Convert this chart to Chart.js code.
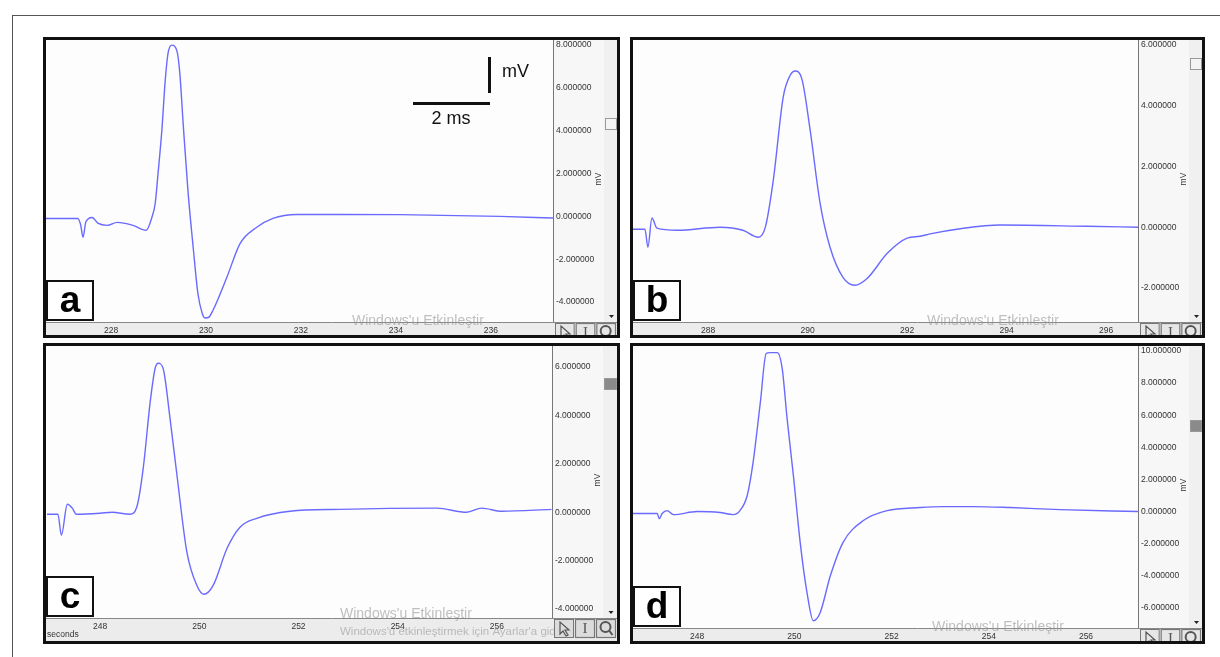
<!DOCTYPE html>
<html><head><meta charset="utf-8">
<script src="https://cdn.jsdelivr.net/npm/chart.js@4.4.1/dist/chart.umd.min.js"></script>
<style>
html,body{margin:0;padding:0;background:#fff;width:1220px;height:657px;overflow:hidden;}
.frame-top{position:absolute;left:12px;top:15px;width:1208px;height:0;border-top:1px solid #555;}
.frame-left{position:absolute;left:12px;top:15px;width:0;height:642px;border-left:1px solid #555;}
.panel{position:absolute;border:3px solid #111;}
canvas{display:block;}
</style></head><body>
<div class="frame-top"></div><div class="frame-left"></div>
<div class="panel" style="left:43px;top:37px"><canvas id="ca" width="571" height="295"></canvas></div>
<div class="panel" style="left:630px;top:37px"><canvas id="cb" width="569" height="295"></canvas></div>
<div class="panel" style="left:43px;top:343px"><canvas id="cc" width="571" height="295"></canvas></div>
<div class="panel" style="left:630px;top:343px"><canvas id="cd" width="569" height="295"></canvas></div>
<script>
// ---- data (time in axis units, amplitude in mV) ----
const aTime = [226.63,227.30,227.36,227.41,227.47,227.60,227.73,227.92,228.13,228.46,228.74,228.86,228.93,228.99,229.07,229.14,229.20,229.28,229.39,229.45,229.52,229.62,229.73,229.83,229.92,229.98,230.05,230.15,230.44,230.72,231.07,231.41,231.92,232.82,234.08,236.19,237.31];
const aVolt = [-0.10,-0.10,-0.40,-0.98,-0.25,-0.05,-0.33,-0.42,-0.28,-0.42,-0.65,-0.05,0.6,2.0,4.0,6.3,7.6,7.99,7.7,6.65,4.3,1.2,-1.44,-3.6,-4.52,-4.74,-4.72,-4.37,-2.84,-1.26,-0.51,-0.09,0.09,0.09,0.08,0.0,-0.08];
const bTime = [286.49,286.73,286.79,286.87,286.97,287.38,288.24,288.70,289.01,289.15,289.31,289.51,289.65,289.75,289.89,290.05,290.25,290.45,290.71,290.95,291.20,291.60,292.00,292.26,292.46,293.07,293.87,295.62,296.64];
const bVolt = [-0.07,-0.07,-0.66,0.30,-0.03,-0.10,0.00,-0.10,-0.33,0.00,1.55,4.29,5.00,5.14,4.84,3.20,0.79,-0.66,-1.65,-1.91,-1.68,-0.86,-0.36,-0.30,-0.22,-0.05,0.07,0.03,0.00];
const cTime = [246.93,247.15,247.22,247.34,247.44,247.52,248.00,248.24,248.60,248.75,248.87,249.01,249.11,249.17,249.27,249.41,249.55,249.75,249.95,250.09,250.28,250.56,250.82,251.16,251.83,252.83,254.79,255.39,255.69,256.10,257.10];
const cVolt = [-0.08,-0.08,-0.95,0.33,0.17,-0.08,-0.04,0.0,-0.08,0.29,1.82,4.55,5.95,6.16,5.95,3.88,1.53,-1.65,-3.02,-3.39,-3.02,-1.49,-0.62,-0.25,0.04,0.12,0.17,0.0,0.17,0.04,0.12];
const dTime = [246.68,247.18,247.22,247.28,247.38,247.51,248.00,248.47,248.74,248.88,249.03,249.15,249.30,249.42,249.50,249.65,249.75,249.85,249.98,250.12,250.26,250.39,250.53,250.74,251.00,251.42,251.91,252.59,253.06,253.68,254.44,255.47,257.07];
const dVolt = [-0.12,-0.12,-0.44,-0.12,0.06,-0.19,0.0,-0.06,-0.19,0.06,1.0,3.05,6.8,9.84,9.9,9.9,8.9,5.8,2.24,-1.93,-5.05,-6.8,-6.3,-4.0,-1.93,-0.56,0.06,0.25,0.31,0.31,0.25,0.12,0.0];

// ---- tick labels ----
const aXTicks = [228,230,232,234,236];
const bXTicks = [288,290,292,294,296];
const cXTicks = [248,250,252,254,256];
const dXTicks = [248,250,252,254,256];
const aYTicks = [-4,-2,0,2,4,6,8];
const bYTicks = [-2,0,2,4,6];
const cYTicks = [-4,-2,0,2,4,6];
const dYTicks = [-6,-4,-2,0,2,4,6,8,10];

const panelLetters = ['a','b','c','d'];
const yUnit = 'mV';
const xUnitLabel = 'seconds';
const watermark1 = "Windows'u Etkinleştir";
const watermark2 = "Windows'u etkinleştirmek için Ayarlar'a gidin.";

const FONT = '"Liberation Sans", Arial, sans-serif';
const LINE = '#6a6aff';

function decor(cfg){
  return {
    id: 'decor',
    beforeDraw(chart){
      const {ctx, chartArea: ca, width, height} = chart;
      ctx.save();
      ctx.fillStyle = '#f7f7f7'; ctx.fillRect(0,0,width,height);
      ctx.fillStyle = '#fdfdfd'; ctx.fillRect(ca.left, 0, ca.right-ca.left, ca.bottom);
      ctx.fillStyle = '#f0f0f0'; ctx.fillRect(ca.right+51, 0, width-ca.right-51, ca.bottom);
      ctx.fillStyle = '#ececec'; ctx.fillRect(0, ca.bottom, width, height-ca.bottom);
      ctx.restore();
    },
    afterDraw(chart){
      const {ctx, chartArea: ca, width, height} = chart;
      ctx.save();
      // axis lines
      ctx.strokeStyle = '#777'; ctx.lineWidth = 1;
      ctx.beginPath(); ctx.moveTo(Math.round(ca.right)+0.5, 0); ctx.lineTo(Math.round(ca.right)+0.5, ca.bottom); ctx.stroke();
      ctx.strokeStyle = '#888';
      ctx.beginPath(); ctx.moveTo(0, Math.round(ca.bottom)+0.5); ctx.lineTo(width, Math.round(ca.bottom)+0.5); ctx.stroke();
      // scroll thumb
      const colX = ca.right+51, colW = width-colX;
      ctx.fillStyle = cfg.thumbColor; ctx.strokeStyle = '#999';
      ctx.fillRect(colX+1, cfg.thumbY, colW-1, 12);
      ctx.strokeRect(colX+1.5, cfg.thumbY+0.5, colW-2, 11);
      // down arrow
      ctx.fillStyle = '#222';
      const ax = colX + colW/2 + 1, ay = ca.bottom - 7;
      ctx.beginPath(); ctx.moveTo(ax-2.5, ay); ctx.lineTo(ax+2.5, ay); ctx.lineTo(ax, ay+3); ctx.closePath(); ctx.fill();
      // tool buttons
      const by = ca.bottom + 1, bw = (width - ca.right - 2)/3;
      for (let i=0;i<3;i++){
        const bx = ca.right + 2 + i*bw;
        ctx.fillStyle = cfg.btnFill; ctx.fillRect(bx, by, bw-1, 19);
        ctx.strokeStyle = '#777'; ctx.strokeRect(bx+0.5, by+0.5, bw-2, 18);
        ctx.strokeStyle = '#555'; ctx.fillStyle = '#555'; ctx.lineWidth = 1.2;
        if (i===0){
          ctx.beginPath(); ctx.moveTo(bx+6, by+3); ctx.lineTo(bx+6, by+15); ctx.lineTo(bx+9, by+12);
          ctx.lineTo(bx+12, by+17); ctx.lineTo(bx+14, by+16); ctx.lineTo(bx+11, by+11); ctx.lineTo(bx+15, by+11); ctx.closePath(); ctx.stroke();
        } else if (i===1){
          ctx.font = '15px "Liberation Serif", serif'; ctx.textAlign='center'; ctx.textBaseline='middle';
          ctx.fillText('I', bx+bw/2-0.5, by+10);
        } else {
          ctx.lineWidth = 2; ctx.beginPath(); ctx.arc(bx+bw/2-1, by+8, 5, 0, Math.PI*2); ctx.stroke();
          ctx.beginPath(); ctx.moveTo(bx+bw/2+3, by+12); ctx.lineTo(bx+bw/2+6, by+16); ctx.stroke();
        }
      }
      ctx.lineWidth = 1;
      // rotated unit label
      ctx.fillStyle = '#333'; ctx.font = '8.5px ' + FONT; ctx.textAlign='center'; ctx.textBaseline='middle';
      ctx.save(); ctx.translate(ca.right+46, (ca.top+ca.bottom)/2 - 2); ctx.rotate(-Math.PI/2); ctx.fillText(yUnit, 0, 0); ctx.restore();
      // letter box
      const lx = ca.left, lw = 48, lh = 41, ly = ca.bottom - lh - 1;
      ctx.fillStyle = '#fff'; ctx.fillRect(lx, ly, lw, lh);
      ctx.strokeStyle = '#111'; ctx.lineWidth = 2; ctx.strokeRect(lx+1, ly+1, lw-2, lh-2);
      ctx.fillStyle = '#000'; ctx.font = 'bold 37px ' + FONT; ctx.textAlign='center'; ctx.textBaseline='middle';
      ctx.fillText(cfg.letter, lx+lw/2, ly+lh/2+1);
      // watermark
      ctx.fillStyle = 'rgba(150,150,150,0.6)'; ctx.textAlign='left';
      ctx.font = '14px ' + FONT;
      ctx.fillText(watermark1, cfg.wmX, cfg.wmY);
      if (cfg.wm2){
        ctx.save(); ctx.beginPath(); ctx.rect(0,0,ca.right+2,height); ctx.clip();
        ctx.font = '11.5px ' + FONT; ctx.fillText(watermark2, cfg.wmX, cfg.wmY+18); ctx.restore();
      }
      if (cfg.extra) cfg.extra(ctx, ca);
      ctx.restore();
    }
  };
}

function scaleBar(ctx, ca){
  ctx.fillStyle = '#111';
  ctx.fillRect(ca.left+442, ca.top+17, 3, 36);
  ctx.fillRect(ca.left+367, ca.top+62, 77, 3);
  ctx.font = '18px ' + FONT; ctx.textBaseline='middle';
  ctx.textAlign='left'; ctx.fillText('mV', ca.left+456, ca.top+32);
  ctx.textAlign='center'; ctx.fillText('2 ms', ca.left+405, ca.top+79);
}
function secondsLabel(ctx, ca){
  ctx.fillStyle = '#333'; ctx.font = '8.5px ' + FONT; ctx.textAlign='left'; ctx.textBaseline='middle';
  ctx.fillText(xUnitLabel, ca.left+1, ca.bottom+17);
}

function makeChart(id, times, volts, xTicks, yTicks, xmin, xmax, ymin, ymax, yW, xH, cfg){
  const pts = times.map((t,i)=>({x:t, y:volts[i]}));
  return new Chart(document.getElementById(id), {
    type: 'line',
    data: { datasets: [{ data: pts, borderColor: LINE, borderWidth: 1.4, pointRadius: 0,
      cubicInterpolationMode: 'monotone', fill: false }] },
    options: {
      responsive: false, animation: false, devicePixelRatio: 1,
      layout: { padding: 0 },
      plugins: { legend: { display: false }, tooltip: { enabled: false } },
      scales: {
        x: { type: 'linear', min: xmin, max: xmax, position: 'bottom',
          grid: { display: false, drawTicks: false }, border: { display: false },
          afterBuildTicks: s => { s.ticks = xTicks.map(v=>({value:v})); },
          afterFit: s => { s.height = xH; s.paddingLeft = 0; s.paddingRight = 0; s.paddingTop = 0; s.paddingBottom = 0; },
          ticks: { autoSkip: false, maxRotation: 0, padding: 4, color: '#333', font: { size: 8.5, family: FONT },
            callback: v => String(v) } },
        y: { type: 'linear', min: ymin, max: ymax, position: 'right',
          grid: { display: false, drawTicks: false }, border: { display: false },
          afterBuildTicks: s => { s.ticks = yTicks.map(v=>({value:v})); },
          afterFit: s => { s.width = yW; s.paddingTop = 0; s.paddingBottom = 0; s.paddingLeft = 0; s.paddingRight = 0; },
          ticks: { autoSkip: false, padding: 3, color: '#333', font: { size: 8.5, family: FONT },
            callback: v => Number(v).toFixed(6) } }
      }
    },
    plugins: [decor(cfg)]
  });
}

makeChart('ca', aTime, aVolt, aXTicks, aYTicks, 226.63, 237.31, -4.93, 8.23, 64, 13,
  { letter: panelLetters[0], thumbY: 78, thumbColor: '#f4f4f4', btnFill: '#e6e6e6', wmX: 306, wmY: 281, extra: scaleBar });
makeChart('cb', bTime, bVolt, bXTicks, bYTicks, 286.49, 296.64, -3.12, 6.16, 64, 13,
  { letter: panelLetters[1], thumbY: 18, thumbColor: '#f4f4f4', btnFill: '#e6e6e6', wmX: 294, wmY: 281 });
makeChart('cc', cTime, cVolt, cXTicks, cYTicks, 246.91, 257.11, -4.37, 6.87, 65, 23,
  { letter: panelLetters[2], thumbY: 32, thumbColor: '#8a8a8a', btnFill: '#dcdcdc', wmX: 294, wmY: 268, wm2: true, extra: secondsLabel });
makeChart('cd', dTime, dVolt, dXTicks, dYTicks, 246.68, 257.07, -7.25, 10.31, 64, 13,
  { letter: panelLetters[3], thumbY: 74, thumbColor: '#8a8a8a', btnFill: '#e6e6e6', wmX: 299, wmY: 281 });
</script>
</body></html>
